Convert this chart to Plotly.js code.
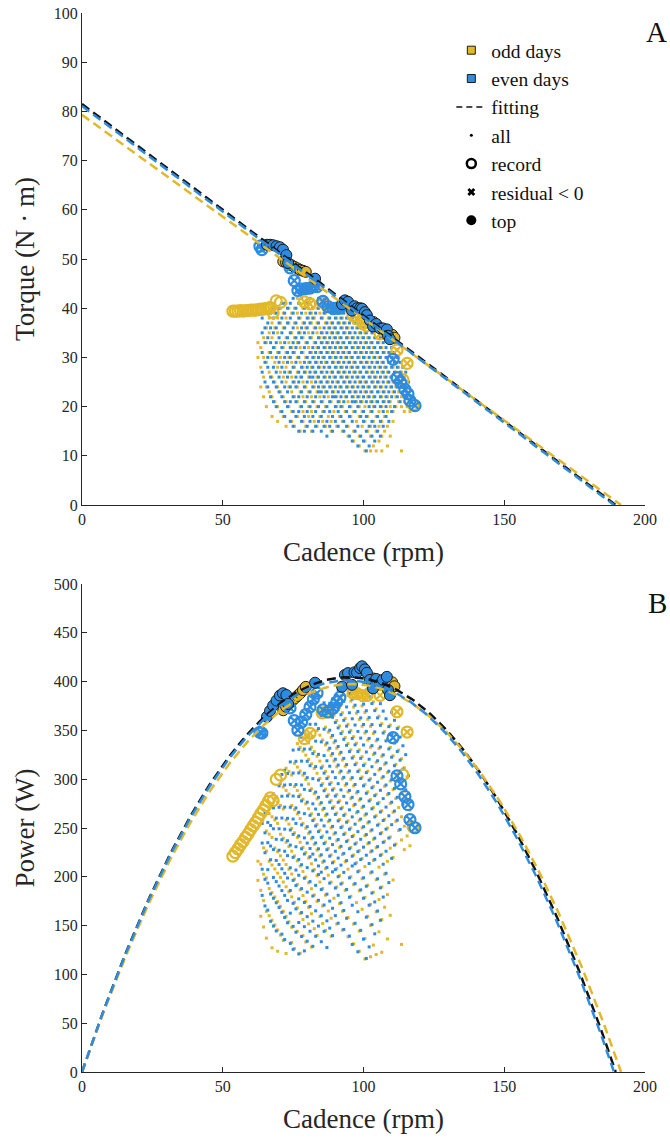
<!DOCTYPE html>
<html><head><meta charset="utf-8">
<script src="https://cdn.plot.ly/plotly-3.0.1.min.js"></script>
<style>html,body{margin:0;padding:0;background:#fff}</style>
</head><body><div id="chart" style="width:670px;height:1139px"></div>
<script>
// ---------- colours ----------
const ODD = '#E2B82A', EVEN = '#2E8CE0', EDGE = '#1b1b1b';

// ---------- fitted lines (torque = intercept at 0 rpm, reaching 0 at zero-crossing) ----------
const fitNames = ['all', 'odd days', 'even days'];
const fitIntercept = [81.5, 79.3, 81.1];   // N·m at 0 rpm
const fitZero = [189.6, 191.5, 189.0];     // rpm where torque reaches 0

// ---------- "all" samples, odd days: cadence columns and torque values ----------
const oddDotCadence = [62.5,63.5,64.5,65.5,66.5,67.5,68.5,69.5,70.5,71.5,72.5,73.5,74.5,75.5,76.5,77.5,78.5,79.5,80.5,81.5,82.5,83.5,84.5,85.5,86.5,87.5,88.5,89.5,90.5,91.5,92.5,93.5,94.5,95.5,96.5,97.5,98.5,99.5,100.5,101.5,102.5,103.5,104.5,105.5,106.5,107.5,108.5,109.5,110.5,111.5,112.5,113.5,114.5,115.5,116.5];
const oddDotTorque = [
 [33,30],[24,28,32],[22,26,30,34],[20,24,29,33,36],[23,27,31,35,38],[18,22,26,30,34,37],[21,25,29,32,36,39],
 [17,20,24,28,31,35,38],[19,23,27,30,33,37,40],[18,22,26,29,32,36,39],[16,21,25,28,31,34,38,41],[20,24,27,30,33,37,40],
 [17,19,23,26,29,32,35,39],[16,22,25,28,31,34,37,40],[18,21,24,27,30,33,36,39,42],[15,20,23,26,29,32,35,38,41],
 [17,19,22,25,28,31,34,37,40],[16,21,24,27,30,33,36,39],[18,20,23,26,29,32,35,38,40],[15,19,22,25,28,31,34,37,39],
 [17,21,24,27,30,33,36,38],[16,20,23,26,29,32,35,37,40],[18,22,25,28,31,34,36,39],[17,19,21,24,27,30,33,35,38],
 [16,20,23,26,29,32,34,37,39],[18,22,25,28,31,33,36,38],[15,17,21,24,27,30,32,35,37,40],[19,23,26,29,31,34,36,39],
 [16,20,22,25,28,30,33,35,38],[18,21,24,27,29,32,34,37,39],[15,17,20,23,26,28,31,33,36,38],[19,22,25,27,30,32,35,37],
 [14,16,21,24,26,29,31,34,36,39],[18,20,23,25,28,30,33,35,38],[13,15,19,22,24,27,29,32,34,37],[17,21,23,26,28,31,33,36,38],
 [12,14,18,20,22,25,27,30,32,35],[16,19,21,24,26,29,31,34,36],[11,13,17,20,23,25,28,30,33,35],[15,18,22,24,27,29,32,34,37],
 [11,14,16,19,21,23,26,28,31,33],[12,17,20,22,25,27,30,32,35],[11,15,18,21,24,26,29,31,34],[13,16,19,23,25,28,30,33],
 [11,14,17,20,22,24,27,29,32],[15,18,21,23,26,28,31],[12,16,19,22,25,27,30],[14,20,21,24,26,29,31],[17,19,23,25,28,30],
 [20,22,24,27,29],[21,23,26,28,30],[11,20,22,25,27],[19,21,24,26],[20,23,25],[19,22]
];

// ---------- "all" samples, even days ----------
const evenDotCadence = [64,65,66,67,68,69,70,71,72,73,74,75,76,77,78,79,80,81,82,83,84,85,86,87,88,89,90,91,92,93,94,95,96,97,98,99,100,101,102,103,104,105,106,107,108,109,110,111,112,113,114,115,116];
const evenDotTorque = [
 [27,31,35,38],[25,29,33,36,39],[24,28,30,34,37],[22,26,31,33,36,39],[21,25,28,32,35,38,40],[20,24,27,30,33,36,39],
 [23,26,29,31,34,37,40],[19,22,25,28,32,35,38,41],[18,21,24,27,30,33,36,39,41],[20,23,26,29,31,34,37,40],
 [17,21,24,27,30,32,35,38,41],[16,19,22,25,28,31,33,36,39,42],[18,21,24,26,29,32,34,37,40],[15,19,22,25,27,30,33,35,38,41],
 [17,20,23,26,28,31,34,36,39,42],[15,18,21,24,27,29,32,35,37,40],[16,19,22,25,28,30,33,36,38,41],[17,20,23,26,27,29,31,34,37,39,42],
 [15,18,21,24,26,28,30,32,35,38,40],[16,19,22,25,27,29,31,33,36,39,41],[17,20,23,24,26,28,30,32,34,37,40,42],
 [15,18,21,23,25,27,29,31,33,35,38,41],[16,19,22,24,26,28,30,32,34,36,39,42],[14,17,20,23,25,27,29,31,33,35,37,40],
 [16,19,21,24,26,28,30,32,34,36,38,41],[15,18,22,23,25,27,29,31,33,35,37,39,41],[17,20,22,24,26,28,30,32,34,36,38,40],
 [16,19,21,23,25,27,29,31,33,35,37,39,41],[18,20,22,24,26,28,30,32,34,36,38,40],[15,17,21,23,25,27,29,31,33,35,37,39],
 [16,19,22,24,26,28,30,32,34,36,38,40],[14,18,20,23,25,27,29,31,33,35,37,39],[13,17,21,22,24,26,28,30,32,34,36,38],
 [15,19,21,23,25,27,29,31,33,35,37,39],[12,16,20,22,24,26,28,30,32,34,36,38],[14,18,21,23,25,27,29,31,33,35,37],
 [13,17,19,22,24,26,28,30,32,34,36,38],[11,15,18,21,23,25,27,29,31,33,35,37],[12,16,20,22,24,26,28,30,32,34,36],
 [14,17,19,21,23,25,27,29,31,33,35],[13,16,20,22,24,26,28,30,32,34],[15,18,21,23,25,27,29,31,33],
 [14,17,20,22,24,26,28,30,32,34],[16,19,21,23,25,27,29,31,33],[18,20,22,24,26,28,30,32],[17,21,23,25,27,29,31],
 [19,22,24,26,28,30,32],[20,23,25,27,29,31],[22,24,26,28,30],[21,25,27,29],[23,26,28],[24,27],[25]
];

// ---------- best efforts (cadence rpm, torque N·m) ----------
const oddRecordCadence = [53.6,54.5,55.4,56.3,57.2,58.1,59.0,59.9,60.8,61.7,62.6,63.5,64.4,65.3,66.2,66.9,67.9,69.0,70.5,114.0,117.6];
const oddRecordTorque  = [39.4,39.4,39.4,39.5,39.4,39.5,39.5,39.6,39.6,39.6,39.7,39.8,39.8,39.9,40.0,40.1,39.1,41.5,41.2,25.5,20.4];
const oddResidCadence = [79.0,81.0,85.3,87.0,96.3,97.7,99.8,101.2,105.9,111.9,115.5];
const oddResidTorque  = [41.3,40.9,41.2,40.5,38.5,37.9,36.9,36.4,34.8,31.5,28.8];
const oddTopCadence = [71.5,72.5,73.5,74.5,75.5,76.5,77.5,78.5,79.5,103.5,105.0,108.0,110.2,111.0];
const oddTopTorque  = [49.5,49.3,49.0,48.7,48.4,48.1,47.8,47.6,47.4,37.2,36.4,35.3,34.6,34.0];

const evenResidCadence = [63.2,63.9,73.9,75.4,76.7,78.0,79.5,81.0,82.2,83.5,85.6,87.4,89.2,90.5,91.6,110.5,111.9,113.2,114.7,115.8,116.5,118.3];
const evenResidTorque  = [52.6,51.9,48.2,45.6,43.6,43.9,44.0,44.1,44.4,44.4,41.4,40.3,39.9,40.0,40.0,29.6,25.9,24.9,23.5,22.6,21.2,20.2];
const evenTopCadence = [65.7,66.8,67.9,69.1,70.3,71.4,72.6,73.2,82.8,92.4,93.4,94.5,95.9,96.8,97.7,98.8,99.5,100.5,101.2,102.3,103.4,104.5,105.9,106.9,108.3,108.7,109.4];
const evenTopTorque  = [52.9,52.9,52.8,52.6,52.4,51.9,50.8,49.2,46.0,40.8,41.6,41.3,39.5,40.4,40.0,40.0,39.9,39.2,38.6,37.5,36.3,36.8,35.9,35.9,35.7,34.4,33.7];

// ---------- helpers ----------
const RPM_TO_RAD = 2 * Math.PI / 60;
const powerOf = (c, t) => c.map((v, i) => t[i] * v * RPM_TO_RAD);
function flatten(cads, cols) {
  const x = [], y = [];
  cads.forEach((c, i) => cols[i].forEach(t => { x.push(c); y.push(t); }));
  return {x, y};
}
const oddDots = flatten(oddDotCadence, oddDotTorque);
const evenDots = flatten(evenDotCadence, evenDotTorque);

const traces = [];
function addBoth(x, t, style) {
  traces.push(Object.assign({type:'scatter', mode:'markers', x:x, y:t, xaxis:'x', yaxis:'y', showlegend:false, hoverinfo:'skip'}, style));
  traces.push(Object.assign({type:'scatter', mode:'markers', x:x, y:powerOf(x, t), xaxis:'x2', yaxis:'y2', showlegend:false, hoverinfo:'skip'}, style));
}
const dotStyle = c => ({marker:{symbol:'square', size:3, color:c, line:{width:0}}});
const ringStyle = c => ({marker:{symbol:'circle-open', size:11, color:c, line:{width:2.2, color:c}}});
const ringxStyle = c => ({marker:{symbol:'circle-x-open', size:11, color:c, line:{width:2.2, color:c}}});
const topStyle = c => ({marker:{symbol:'circle', size:11, color:c, line:{width:1, color:EDGE}}});

addBoth(oddDots.x, oddDots.y, dotStyle(ODD));
addBoth(evenDots.x, evenDots.y, dotStyle(EVEN));
addBoth(oddRecordCadence, oddRecordTorque, ringStyle(ODD));
addBoth(oddResidCadence, oddResidTorque, ringxStyle(ODD));
addBoth(oddTopCadence, oddTopTorque, topStyle(ODD));
addBoth(evenResidCadence, evenResidTorque, ringxStyle(EVEN));
addBoth(evenTopCadence, evenTopTorque, topStyle(EVEN));

// fitted lines
const fitColors = ['#111111', ODD, EVEN];
fitNames.forEach((n, i) => {
  const T0 = fitIntercept[i], z = fitZero[i];
  const line = {color: fitColors[i], width: 2.5, dash: '9px,5px'};
  traces.push({type:'scatter', mode:'lines', x:[0, z], y:[T0, 0], xaxis:'x', yaxis:'y', line:line, showlegend:false, hoverinfo:'skip'});
  const cx = [], py = [];
  for (let c = 0; c <= z; c += 1) { cx.push(c); py.push((T0 - T0 / z * c) * c * RPM_TO_RAD); }
  cx.push(z); py.push(0);
  traces.push({type:'scatter', mode:'lines', x:cx, y:py, xaxis:'x2', yaxis:'y2', line:line, showlegend:false, hoverinfo:'skip'});
});

// legend entries
const legendEntries = [
  {name:'odd days', mode:'markers', marker:{symbol:'square', size:8, color:ODD, line:{width:1, color:EDGE}}},
  {name:'even days', mode:'markers', marker:{symbol:'square', size:8, color:EVEN, line:{width:1, color:EDGE}}},
  {name:'fitting', mode:'lines', line:{color:'#111', width:1.5, dash:'6px,4px'}},
  {name:'all', mode:'markers', marker:{symbol:'circle', size:3, color:'#000'}},
  {name:'record', mode:'markers', marker:{symbol:'circle-open', size:9, color:'#000', line:{width:2.5, color:'#000'}}},
  {name:'residual &lt; 0', mode:'markers', marker:{symbol:'x', size:7, color:'#000', line:{width:0}}},
  {name:'top', mode:'markers', marker:{symbol:'circle', size:10, color:'#000'}}
];
legendEntries.forEach((e, i) => {
  traces.push(Object.assign({type:'scatter', x:[null], y:[null], xaxis:'x', yaxis:'y', showlegend:true, hoverinfo:'skip'}, e));
});

const FONT = '"Liberation Serif", "Times New Roman", serif';
const TITLE_FONT = {family:FONT, size:27, color:'#262626'};
const axisBase = {
  showline:true, linecolor:'#262626', linewidth:1, ticks:'inside', ticklen:5, tickcolor:'#262626',
  showgrid:false, zeroline:false, mirror:false, tickfont:{family:FONT, size:16, color:'#262626'}, automargin:false
};
const layout = {
  width:670, height:1139, paper_bgcolor:'#fff', plot_bgcolor:'#fff',
  margin:{l:82, r:25, t:13, b:67},
  font:{family:FONT, color:'#262626'},
  xaxis: Object.assign({}, axisBase, {range:[0,200], tickvals:[0,50,100,150,200], anchor:'y',
    title:{text:'Cadence (rpm)', font:TITLE_FONT, standoff:14}}),
  yaxis: Object.assign({}, axisBase, {range:[0,100], dtick:10, domain:[0.5354,1], anchor:'x',
    title:{text:'Torque (N · m)', font:TITLE_FONT, standoff:11}}),
  xaxis2: Object.assign({}, axisBase, {range:[0,200], tickvals:[0,50,100,150,200], anchor:'y2',
    title:{text:'Cadence (rpm)', font:TITLE_FONT, standoff:14}}),
  yaxis2: Object.assign({}, axisBase, {range:[0,500], dtick:50, domain:[0,0.4608], anchor:'x2',
    title:{text:'Power (W)', font:TITLE_FONT, standoff:11}}),
  showlegend:true,
  legend:{x:0.656, y:0.983, xanchor:'left', yanchor:'top', bgcolor:'rgba(0,0,0,0)', borderwidth:0,
    font:{family:FONT, size:19.5, color:'#111'}, itemwidth:30},
  annotations:[
    {text:'A', xref:'paper', yref:'paper', x:1, y:1, xanchor:'right', yanchor:'top', xshift:24, yshift:-1, showarrow:false, font:{family:FONT, size:29, color:'#111'}},
    {text:'B', xref:'paper', yref:'paper', x:1, y:0.4608, xanchor:'right', yanchor:'top', xshift:24, yshift:-1, showarrow:false, font:{family:FONT, size:29, color:'#111'}}
  ]
};
Plotly.newPlot('chart', traces, layout, {staticPlot:true, displayModeBar:false});
</script></body></html>
